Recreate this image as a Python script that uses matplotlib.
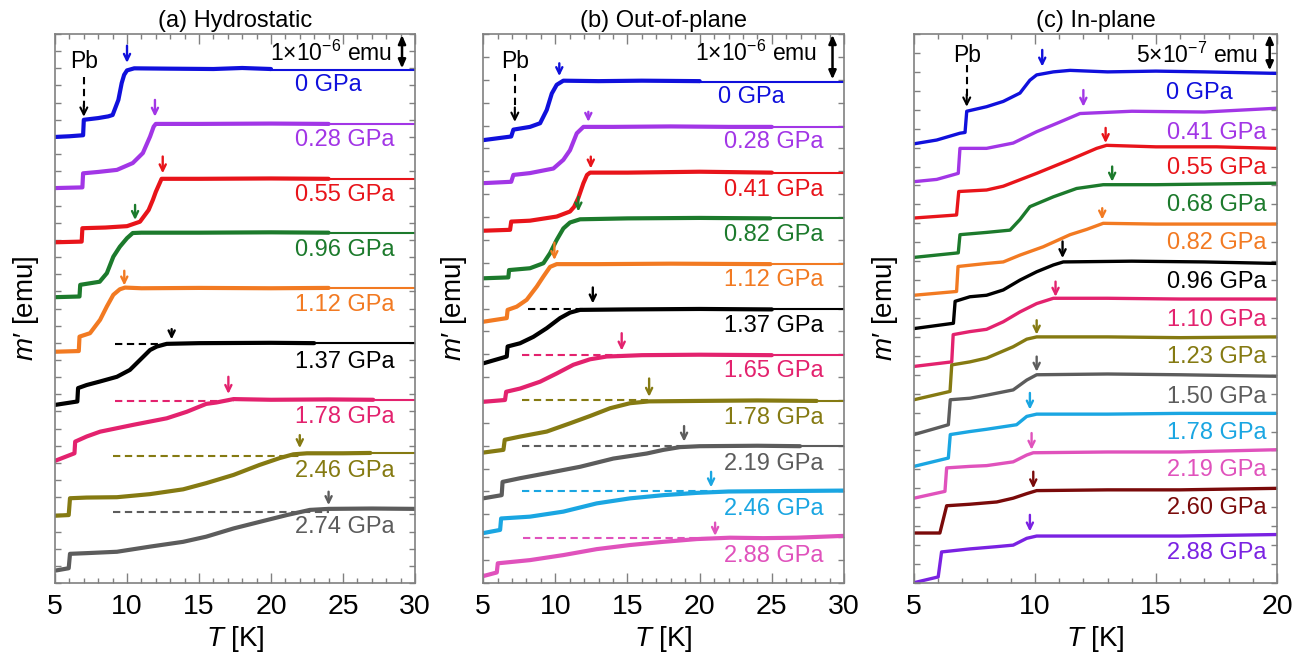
import matplotlib
matplotlib.use('Agg')
import matplotlib.pyplot as plt
from matplotlib.ticker import MultipleLocator

plt.rcParams['font.family'] = ['Liberation Sans', 'DejaVu Sans']
plt.rcParams['mathtext.fontset'] = 'custom'
plt.rcParams['mathtext.rm'] = 'Liberation Sans'
plt.rcParams['mathtext.it'] = 'Liberation Sans:italic'

BLUE = '#1010dc'
PURPLE = '#a236e6'
RED = '#e8141a'
GREEN = '#1c7a2c'
ORANGE = '#f27a22'
BLACK = '#000000'
CRIMSON = '#e3226e'
OLIVE = '#857a12'
GRAY = '#5c5c5c'
CYAN = '#1aa6e2'
PINK = '#e052bc'
DARKRED = '#7a0a0a'
VIOLET = '#7a22e2'

# ---------------- (a) hydrostatic, m' in 1e-6 emu ----------------
a_labels = ['0 GPa', '0.28 GPa', '0.55 GPa', '0.96 GPa', '1.12 GPa',
            '1.37 GPa', '1.78 GPa', '2.46 GPa', '2.74 GPa']
a_colors = [BLUE, PURPLE, RED, GREEN, ORANGE, BLACK, CRIMSON, OLIVE, GRAY]
a_temps = [
    [5.0, 6.0, 6.95, 7.0, 8.0, 8.7, 9.0, 9.4, 9.63, 9.8, 10.0, 10.5, 13.0, 16.0, 18.0, 20.0],
    [5.0, 6.9, 6.95, 8.0, 9.3, 10.4, 11.1, 11.6, 11.85, 12.0, 15.0, 20.0, 24.0],
    [5.0, 6.85, 6.9, 8.5, 10.0, 10.9, 11.5, 11.8, 12.0, 12.4, 15.0, 20.0, 24.0],
    [5.0, 6.7, 6.75, 8.1, 8.6, 9.05, 9.5, 10.0, 10.4, 11.0, 15.0, 20.0, 24.0],
    [5.0, 6.65, 6.7, 7.43, 8.13, 8.6, 9.05, 9.5, 9.86, 11.0, 15.0, 20.0, 24.0],
    [5.0, 6.55, 6.6, 7.2, 8.1, 9.3, 10.2, 10.9, 11.6, 12.06, 12.76, 15.0, 20.0, 23.0],
    [5.0, 6.35, 6.4, 7.2, 8.13, 10.44, 12.76, 14.15, 15.5, 16.2, 17.4, 20.0, 24.0, 27.1],
    [5.0, 5.95, 6.04, 7.2, 9.3, 11.6, 13.9, 15.5, 17.4, 19.2, 20.6, 21.55, 22.5, 25.0, 26.9],
    [5.0, 5.95, 6.04, 7.2, 9.3, 11.6, 13.9, 15.5, 17.4, 19.2, 21.1, 22.7, 24.0, 27.0, 30.0],
]
a_moments = [
    [13.00, 13.02, 13.05, 13.50, 13.55, 13.60, 13.64, 14.08, 14.57, 14.81, 14.94, 15.0, 14.99, 14.98, 15.01, 14.98],
    [11.51, 11.53, 11.94, 11.98, 12.04, 12.24, 12.53, 13.01, 13.30, 13.38, 13.38, 13.39, 13.38],
    [9.93, 9.95, 10.34, 10.36, 10.40, 10.53, 10.87, 11.17, 11.40, 11.78, 11.78, 11.79, 11.78],
    [8.33, 8.35, 8.69, 8.78, 9.03, 9.51, 9.80, 10.05, 10.20, 10.21, 10.21, 10.22, 10.21],
    [6.74, 6.76, 7.18, 7.28, 7.67, 8.06, 8.40, 8.56, 8.61, 8.59, 8.60, 8.59, 8.60],
    [5.19, 5.29, 5.68, 5.77, 5.87, 6.01, 6.21, 6.50, 6.79, 6.89, 6.97, 6.99, 7.00, 6.99],
    [3.56, 3.78, 4.12, 4.27, 4.41, 4.61, 4.80, 4.99, 5.22, 5.26, 5.36, 5.34, 5.35, 5.34],
    [1.96, 1.98, 2.47, 2.49, 2.50, 2.59, 2.73, 2.91, 3.15, 3.44, 3.64, 3.75, 3.78, 3.78, 3.79],
    [0.36, 0.43, 0.85, 0.87, 0.91, 1.06, 1.20, 1.35, 1.59, 1.78, 1.98, 2.13, 2.16, 2.17, 2.16],
]
a_fit_level = [14.96, 13.38, 11.78, 10.21, 8.59, 6.99, 5.34, 3.78, 2.16]
a_dashed = [None, None, None, None, None,
            (9.2, 13.0, 6.96), (9.2, 17.4, 5.31), (9.05, 22.0, 3.71), (9.05, 24.0, 2.08)]
a_tc = [10.0, 11.94, 12.48, 10.56, 9.81, 13.1, 17.04, 22.0, 24.0]
a_arrow_tail = [15.66, 14.08, 12.43, 11.02, 9.10, 7.40, 6.01, 4.31, 2.66]
a_arrow_tip = [15.16, 13.59, 11.94, 10.58, 8.67, 7.10, 5.51, 3.93, 2.27]
a_label_x = [21.7] * 9
a_label_y = [14.52, 12.92, 11.31, 9.71, 8.10, 6.45, 4.85, 3.25, 1.64]

# ---------------- (b) out-of-plane, m' in 1e-6 emu ----------------
b_labels = ['0 GPa', '0.28 GPa', '0.41 GPa', '0.82 GPa', '1.12 GPa', '1.37 GPa',
            '1.65 GPa', '1.78 GPa', '2.19 GPa', '2.46 GPa', '2.88 GPa']
b_colors = [BLUE, PURPLE, RED, GREEN, ORANGE, BLACK, CRIMSON, OLIVE, GRAY, CYAN, PINK]
b_temps = [
    [5.0, 6.95, 7.1, 8.25, 8.95, 9.41, 9.76, 10.1, 10.56, 13.0, 16.0, 20.0],
    [5.0, 6.95, 7.1, 8.25, 9.87, 10.56, 11.02, 11.49, 11.95, 14.0, 18.0, 22.0, 25.0],
    [5.0, 6.87, 6.95, 8.25, 10.1, 11.02, 11.3, 11.6, 11.95, 12.2, 12.41, 15.0, 20.0, 25.0],
    [5.0, 6.75, 6.8, 8.25, 9.18, 9.64, 10.1, 10.56, 11.02, 11.72, 15.0, 20.0, 24.9],
    [5.0, 6.64, 6.7, 7.33, 8.02, 8.72, 9.18, 9.64, 10.1, 13.0, 18.0, 24.9],
    [5.0, 6.64, 6.7, 7.56, 8.48, 9.41, 10.33, 11.02, 11.72, 15.0, 20.0, 25.0],
    [5.0, 6.52, 6.6, 7.56, 8.95, 10.1, 11.25, 12.41, 13.56, 16.0, 20.0, 25.0],
    [5.0, 6.41, 6.5, 7.56, 9.41, 11.02, 12.41, 13.8, 15.18, 16.5, 20.0, 24.0, 28.1],
    [5.0, 6.29, 6.35, 7.56, 9.41, 11.72, 14.02, 16.33, 17.49, 18.64, 20.0, 24.0, 26.95],
    [5.0, 6.18, 6.25, 8.25, 10.56, 12.87, 15.18, 17.49, 19.8, 22.0, 26.0, 30.0],
    [5.0, 5.95, 6.02, 8.25, 10.56, 12.87, 15.18, 17.49, 19.8, 22.1, 24.4, 26.7, 30.0],
]
b_moments = [
    [9.68, 9.76, 9.91, 9.97, 10.05, 10.34, 10.70, 10.89, 10.98, 10.97, 10.98, 10.97],
    [8.74, 8.77, 8.92, 8.96, 9.06, 9.25, 9.46, 9.83, 9.97, 9.97, 9.98, 9.97, 9.97],
    [7.70, 7.72, 7.90, 7.92, 8.01, 8.12, 8.22, 8.42, 8.74, 8.92, 8.97, 8.97, 8.99, 8.97],
    [6.66, 6.68, 6.84, 6.88, 6.99, 7.21, 7.50, 7.75, 7.88, 7.95, 7.97, 7.98, 7.97],
    [5.71, 5.79, 5.97, 6.04, 6.19, 6.48, 6.70, 6.91, 6.97, 6.97, 6.98, 6.97],
    [4.80, 4.95, 5.17, 5.24, 5.38, 5.57, 5.79, 5.91, 5.97, 5.98, 5.99, 5.98],
    [3.96, 4.00, 4.18, 4.25, 4.40, 4.58, 4.77, 4.89, 4.95, 4.98, 4.99, 4.98],
    [2.85, 2.91, 3.13, 3.20, 3.31, 3.49, 3.65, 3.82, 3.93, 3.97, 3.98, 3.99, 3.98],
    [1.85, 1.92, 2.21, 2.29, 2.40, 2.54, 2.72, 2.83, 2.91, 2.97, 2.99, 3.00, 2.99],
    [1.09, 1.16, 1.41, 1.45, 1.56, 1.74, 1.85, 1.92, 1.97, 2.00, 2.01, 2.02],
    [0.15, 0.23, 0.43, 0.50, 0.61, 0.74, 0.83, 0.90, 0.96, 0.99, 0.98, 0.99, 1.03],
]
b_fit_level = [10.96, 9.97, 8.97, 7.97, 6.97, 5.98, 4.98, 3.98, 2.99, 2.02, 1.03]
b_dashed = [None, None, None, None, None,
            (8.14, 12.0, 5.98), (7.68, 14.5, 4.98), (7.68, 16.5, 3.99),
            (7.68, 19.0, 3.00), (7.68, 21.0, 2.02), (7.79, 21.5, 0.99)]
b_tc = [10.28, 12.29, 12.46, 11.6, 9.94, 12.6, 14.6, 16.5, 18.92, 20.79, 21.07]
b_arrow_tail = [11.36, 10.30, 9.32, 8.44, 7.44, 6.46, 5.46, 4.47, 3.43, 2.43, 1.32]
b_arrow_tip = [11.08, 10.08, 9.06, 8.12, 7.06, 6.11, 5.08, 4.07, 3.09, 2.09, 1.03]
b_label_x = [21.27] + [21.7] * 10
b_label_y = [10.63, 9.65, 8.59, 7.61, 6.62, 5.62, 4.64, 3.60, 2.60, 1.61, 0.59]

# ---------------- (c) in-plane, m' in 1e-7 emu ----------------
c_labels = ['0 GPa', '0.41 GPa', '0.55 GPa', '0.68 GPa', '0.82 GPa', '0.96 GPa', '1.10 GPa',
            '1.23 GPa', '1.50 GPa', '1.78 GPa', '2.19 GPa', '2.60 GPa', '2.88 GPa']
c_colors = [BLUE, PURPLE, RED, GREEN, ORANGE, BLACK, CRIMSON, OLIVE, GRAY, CYAN, PINK,
            DARKRED, VIOLET]
c_temps = [
    [5.0, 5.94, 6.9, 7.11, 7.18, 8.0, 8.69, 9.38, 9.79, 10.07, 10.76, 11.45, 13.0, 15.0, 17.0, 20.0],
    [5.0, 5.94, 6.83, 6.9, 8.0, 9.1, 10.07, 10.9, 11.86, 14.0, 17.0, 20.0],
    [5.0, 6.76, 6.85, 8.0, 8.69, 10.07, 11.45, 12.55, 12.96, 15.0, 17.5, 20.0],
    [5.0, 6.83, 6.9, 8.0, 8.97, 9.38, 9.79, 10.76, 11.72, 12.82, 15.0, 17.5, 20.0],
    [5.0, 6.76, 6.82, 8.0, 8.69, 9.38, 10.34, 11.45, 12.14, 12.82, 15.0, 17.5, 20.0],
    [5.0, 6.63, 6.7, 7.31, 8.0, 8.69, 9.38, 10.07, 10.76, 11.17, 14.0, 17.0, 20.0],
    [5.0, 6.56, 6.62, 7.31, 8.0, 8.69, 9.38, 10.07, 10.76, 13.0, 16.0, 20.0],
    [5.0, 6.49, 6.56, 7.31, 8.0, 9.1, 9.66, 10.07, 13.0, 16.0, 20.0],
    [5.0, 6.42, 6.5, 7.31, 8.0, 9.1, 9.66, 10.07, 13.0, 16.0, 20.0],
    [5.0, 6.42, 6.5, 7.31, 8.0, 9.24, 9.66, 10.07, 13.0, 16.0, 20.0],
    [5.0, 6.28, 6.35, 7.31, 8.0, 9.1, 9.66, 9.93, 13.0, 16.0, 20.0],
    [5.0, 6.07, 6.35, 7.31, 8.42, 9.1, 9.66, 10.07, 13.0, 16.0, 20.0],
    [5.0, 6.0, 6.14, 7.31, 8.42, 9.1, 9.66, 10.07, 13.0, 16.0, 20.0],
]
c_moments = [
    [58.0, 58.5, 59.4, 59.5, 62.3, 62.9, 63.6, 64.7, 66.4, 67.1, 67.5, 67.7, 67.5, 67.6, 67.5, 67.3],
    [53.0, 53.3, 54.1, 57.4, 57.4, 58.1, 59.6, 60.7, 62.0, 62.3, 62.2, 62.7],
    [48.2, 48.6, 51.7, 51.9, 52.4, 54.1, 55.9, 57.4, 57.8, 57.6, 57.6, 57.4],
    [43.0, 43.6, 46.0, 46.3, 46.6, 48.0, 49.7, 51.0, 52.1, 52.6, 52.6, 52.7, 52.8],
    [38.0, 38.5, 41.8, 42.2, 42.4, 43.3, 44.4, 46.0, 46.7, 47.5, 47.4, 47.4, 47.4],
    [33.6, 34.3, 37.2, 37.8, 38.0, 38.7, 40.0, 41.1, 42.0, 42.4, 42.5, 42.4, 42.2],
    [28.6, 29.2, 32.8, 33.2, 33.5, 34.5, 35.8, 36.9, 37.6, 37.6, 37.5, 37.5],
    [24.2, 25.3, 28.8, 29.2, 29.7, 31.2, 32.2, 32.5, 32.5, 32.4, 32.5],
    [19.6, 20.9, 24.2, 24.4, 24.8, 25.5, 26.8, 27.5, 27.6, 27.5, 27.3],
    [15.4, 16.5, 19.6, 20.0, 20.3, 20.9, 22.0, 22.3, 22.3, 22.4, 22.4],
    [11.2, 12.1, 15.2, 15.4, 15.5, 16.0, 16.9, 17.2, 17.3, 17.3, 17.6],
    [6.6, 6.6, 10.2, 10.4, 10.7, 11.2, 11.8, 12.2, 12.3, 12.3, 12.5],
    [0.04, 0.8, 4.1, 4.5, 4.8, 5.0, 5.9, 6.2, 6.2, 6.2, 6.4],
]
c_tc = [10.3, 12.0, 12.92, 13.19, 12.78, 11.14, 10.85, 10.07, 10.07, 9.79, 9.86, 9.93, 9.79]
c_arrow_tail = [70.4, 65.1, 60.1, 55.0, 49.5, 45.1, 39.8, 34.7, 29.9, 25.1, 19.8, 14.7, 9.0]
c_arrow_tip = [68.2, 62.9, 58.1, 53.0, 48.0, 42.9, 37.8, 32.8, 27.9, 22.9, 17.6, 12.5, 6.8]
c_label_x = [15.4] + [15.45] * 12
c_label_y = [64.7, 59.4, 54.8, 49.9, 44.9, 39.8, 34.7, 29.9, 24.6, 19.8, 14.9, 9.9, 3.9]

SPINE = '#808080'


def style_axes(ax, xmax, ymax, ytick):
    ax.set_xlim(5, xmax)
    ax.set_ylim(0, ymax)
    ax.xaxis.set_major_locator(MultipleLocator(5))
    ax.xaxis.set_minor_locator(MultipleLocator(1))
    ax.yaxis.set_major_locator(MultipleLocator(ytick))
    ax.tick_params(axis='both', which='both', direction='in', top=True, right=True,
                   color=SPINE, width=1.0)
    ax.tick_params(axis='x', which='major', length=7, labelsize=20.5, pad=8)
    ax.tick_params(axis='x', which='minor', length=3.5)
    ax.tick_params(axis='y', which='major', length=4.5, labelleft=False)
    for s in ax.spines.values():
        s.set_color(SPINE)
        s.set_linewidth(1.2)
    ax.set_xlabel('$T$ [K]', fontsize=20, labelpad=3)
    ax.set_ylabel('$m$\u2032 [emu]', fontsize=20, labelpad=10)


def tc_arrow(ax, x, tail, tip, color):
    ax.annotate('', xy=(x, tip), xytext=(x, tail),
                arrowprops=dict(arrowstyle='->,head_length=0.45,head_width=0.22',
                                color=color, lw=1.7, shrinkA=0, shrinkB=0))


def draw_panel(ax, temps, moments, colors, labels, label_x, label_y, tc, tails, tips,
               xmax, lw, fit_level=None, dashed=None):
    for i in range(len(temps)):
        c = colors[i]
        if fit_level is not None:
            ax.plot([temps[i][-1], xmax], [fit_level[i], fit_level[i]], color=c, lw=1.5)
        if dashed is not None and dashed[i] is not None:
            t0, t1, lev = dashed[i]
            ax.plot([t0, t1], [lev, lev], color=c, lw=1.5, ls=(0, (3.5, 2.2)))
        ax.plot(temps[i], moments[i], color=c, lw=lw,
                solid_joinstyle='round', solid_capstyle='round')
        tc_arrow(ax, tc[i], tails[i], tips[i], c)
        ax.text(label_x[i], label_y[i], labels[i], color=c, fontsize=17,
                ha='left', va='center')


def pb_marker(ax, x, tail, tip, text_y):
    ax.plot([x, x], [tail, tip + (tail - tip) * 0.25], color='black', lw=1.5,
            ls=(0, (3.5, 2.2)))
    ax.annotate('', xy=(x, tip), xytext=(x, tip + (tail - tip) * 0.3),
                arrowprops=dict(arrowstyle='->,head_length=0.5,head_width=0.25',
                                color='black', lw=1.5, shrinkA=0, shrinkB=0))
    ax.text(x, text_y, 'Pb', fontsize=16.5, ha='center', va='center')


def scale_bar(ax, x, y0, y1, text_x, text_y, text):
    ax.annotate('', xy=(x, y0), xytext=(x, y1),
                arrowprops=dict(arrowstyle='<|-|>,head_length=0.5,head_width=0.22',
                                color='black', lw=1.8, shrinkA=0, shrinkB=0))
    ax.text(text_x, text_y, text, fontsize=16.5, ha='right', va='center')


fig = plt.figure(figsize=(13.07, 6.58), dpi=100)
ax_a = fig.add_axes([0.0421, 0.114, 0.2754, 0.8343])
ax_b = fig.add_axes([0.3696, 0.114, 0.2762, 0.8343])
ax_c = fig.add_axes([0.6993, 0.114, 0.2777, 0.8343])

# (a)
style_axes(ax_a, 30, 16, 0.5)
draw_panel(ax_a, a_temps, a_moments, a_colors, a_labels, a_label_x, a_label_y,
           a_tc, a_arrow_tail, a_arrow_tip, 30, 3.0,
           fit_level=a_fit_level, dashed=a_dashed)
pb_marker(ax_a, 7.0, 14.75, 13.59, 15.19)
scale_bar(ax_a, 29.1, 15.0, 15.97, 28.4, 15.44, '1$\\times$10$^{-6}$ emu')
ax_a.set_title('(a) Hydrostatic', fontsize=17, pad=5)

# (b)
style_axes(ax_b, 30, 12, 0.5)
draw_panel(ax_b, b_temps, b_moments, b_colors, b_labels, b_label_x, b_label_y,
           b_tc, b_arrow_tail, b_arrow_tip, 30, 3.0,
           fit_level=b_fit_level, dashed=b_dashed)
pb_marker(ax_b, 7.2, 11.13, 10.08, 11.39)
scale_bar(ax_b, 29.2, 11.01, 11.98, 28.1, 11.58, '1$\\times$10$^{-6}$ emu')
ax_b.set_title('(b) Out-of-plane', fontsize=17, pad=5)

# (c)
style_axes(ax_c, 20, 72.5, 2.5)
draw_panel(ax_c, c_temps, c_moments, c_colors, c_labels, c_label_x, c_label_y,
           c_tc, c_arrow_tail, c_arrow_tip, 20, 2.4)
pb_marker(ax_c, 7.18, 68.4, 62.9, 69.7)
scale_bar(ax_c, 19.7, 67.7, 72.4, 19.2, 69.7, '5$\\times$10$^{-7}$ emu')
ax_c.set_title('(c) In-plane', fontsize=17, pad=5)

fig.savefig('out.png', dpi=100)
